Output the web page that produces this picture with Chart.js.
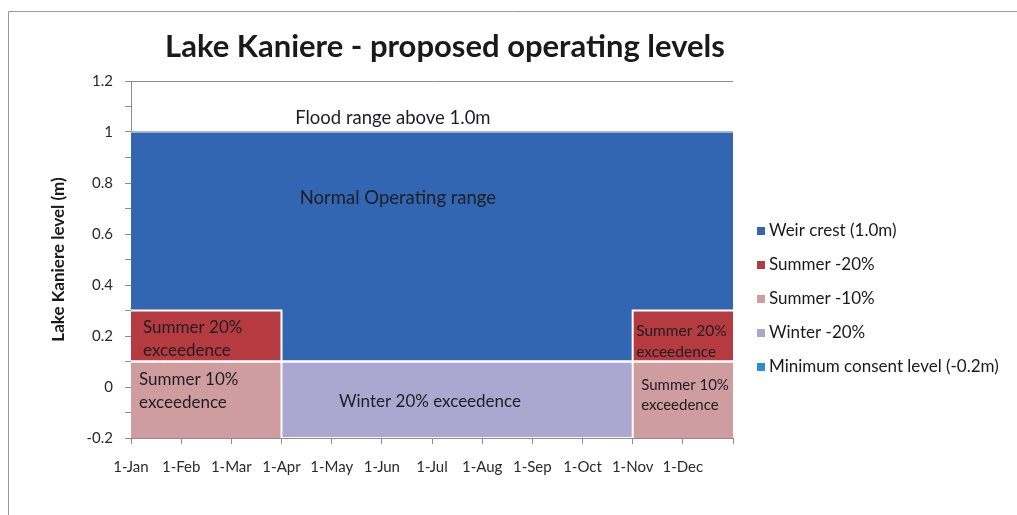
<!DOCTYPE html>
<html>
<head>
<meta charset="utf-8">
<title>Lake Kaniere - proposed operating levels</title>
<script src="https://cdn.jsdelivr.net/npm/chart.js@4"></script>
<style>
    html, body { margin: 0; padding: 0; background: #ffffff; }
    #wrap { position: relative; width: 1017px; height: 515px; }
</style>
</head>
<body>
<div id="wrap"><canvas id="levelsChart" width="1017" height="515"></canvas></div>
<script>
// Month tick labels (x axis runs 0..12 in months from 1-Jan)
const monthLabels = ['1-Jan', '1-Feb', '1-Mar', '1-Apr', '1-May', '1-Jun',
    '1-Jul', '1-Aug', '1-Sep', '1-Oct', '1-Nov', '1-Dec'];

// Corner points of the operating bands, in months from 1-Jan
const bandMonths = [0, 3, 3, 10, 10, 12];

// Lake levels (m) at each corner point
const minConsentLevel = [-0.2, -0.2, -0.2, -0.2, -0.2, -0.2];
const summer10Level = [0.1, 0.1, -0.2, -0.2, 0.1, 0.1];
const winter20Level = [0.1, 0.1, 0.1, 0.1, 0.1, 0.1];
const summer20Level = [0.3, 0.3, 0.1, 0.1, 0.3, 0.3];
const weirCrestLevel = [1.0, 1.0, 1.0, 1.0, 1.0, 1.0];

// Legend shows the series top band first
const legendOrder = ['Weir crest (1.0m)', 'Summer -20%', 'Summer -10%',
    'Winter -20%', 'Minimum consent level (-0.2m)'];

// Y axis range / step
const yMin = -0.2;
const yMax = 1.2;
const yMinorStep = 0.1;

const FONT = 'Lato, "Open Sans", sans-serif';

function toPoints(levels) {
    return bandMonths.map((m, i) => ({ x: m, y: levels[i] }));
}

// Text written inside the bands
const bandNotes = [
    { x: 5.22, y: 1.055, lines: ['Flood range above 1.0m'], align: 'center', size: 18.5 },
    { x: 5.32, y: 0.74, lines: ['Normal Operating range'], align: 'center', size: 18.5 },
    { x: 0.24, y: 0.235, lines: ['Summer 20%', 'exceedence'], align: 'left', size: 17 },
    { x: 0.16, y: 0.03, lines: ['Summer 10%', 'exceedence'], align: 'left', size: 17 },
    { x: 5.96, y: -0.058, lines: ['Winter 20% exceedence'], align: 'center', size: 17 },
    { x: 10.07, y: 0.22, lines: ['Summer 20%', 'exceedence'], align: 'left', size: 15.5 },
    { x: 10.17, y: 0.008, lines: ['Summer 10%', 'exceedence'], align: 'left', size: 15 }
];

const notesPlugin = {
    id: 'bandNotes',
    afterDatasetsDraw(chart) {
        const { ctx, scales } = chart;
        ctx.save();
        ctx.fillStyle = '#1e1e22';
        ctx.textBaseline = 'middle';
        bandNotes.forEach(note => {
            ctx.font = note.size + 'px ' + FONT;
            ctx.textAlign = note.align;
            const px = scales.x.getPixelForValue(note.x);
            const py = scales.y.getPixelForValue(note.y);
            const lineGap = note.size * 1.35;
            note.lines.forEach((line, i) => {
                ctx.fillText(line, px, py + i * lineGap);
            });
        });
        ctx.restore();
    }
};

// Legend to the right of the plot, one row per series
const sideLegendPlugin = {
    id: 'sideLegend',
    afterDraw(chart) {
        const { ctx } = chart;
        const sets = chart.data.datasets;
        const left = chart.chartArea.right + 24;
        const top = 231;
        const rowGap = 34;
        ctx.save();
        ctx.font = '17px ' + FONT;
        ctx.textAlign = 'left';
        ctx.textBaseline = 'middle';
        legendOrder.forEach((name, row) => {
            const ds = sets.find(d => d.label === name);
            const y = top + row * rowGap;
            ctx.fillStyle = ds.backgroundColor;
            ctx.fillRect(left, y - 4, 8, 8);
            ctx.fillStyle = '#1a1a1a';
            ctx.fillText(name, left + 12, y);
        });
        ctx.restore();
    }
};

const framePlugin = {
    id: 'frame',
    beforeDraw(chart) {
        const { ctx, width, height } = chart;
        ctx.save();
        ctx.strokeStyle = '#9a9a9a';
        ctx.lineWidth = 1;
        ctx.beginPath();
        ctx.moveTo(8.5, height);
        ctx.lineTo(8.5, 11.5);
        ctx.lineTo(width, 11.5);
        ctx.stroke();
        // chart title
        ctx.fillStyle = '#1a1a1a';
        ctx.font = 'bold 31px ' + FONT;
        ctx.textAlign = 'center';
        ctx.textBaseline = 'middle';
        ctx.fillText('Lake Kaniere - proposed operating levels', 445, 47);
        ctx.restore();
    }
};

const isMajor = v => Math.round(v * 10) % 2 === 0;

const ctx = document.getElementById('levelsChart').getContext('2d');
new Chart(ctx, {
    type: 'line',
    data: {
        datasets: [{
            label: 'Minimum consent level (-0.2m)',
            data: toPoints(minConsentLevel),
            backgroundColor: '#2b8fcf',
            borderColor: 'rgba(0,0,0,0)',
            borderWidth: 0,
            fill: false
        }, {
            label: 'Summer -10%',
            data: toPoints(summer10Level),
            backgroundColor: '#cf9ca0',
            borderColor: '#ffffff',
            borderWidth: 2,
            fill: '-1'
        }, {
            label: 'Winter -20%',
            data: toPoints(winter20Level),
            backgroundColor: '#aba7d0',
            borderColor: '#ffffff',
            borderWidth: 2,
            fill: '-1'
        }, {
            label: 'Summer -20%',
            data: toPoints(summer20Level),
            backgroundColor: '#b63b40',
            borderColor: '#ffffff',
            borderWidth: 2,
            fill: '-1'
        }, {
            label: 'Weir crest (1.0m)',
            data: toPoints(weirCrestLevel),
            backgroundColor: '#3266b2',
            borderColor: '#b9cbe6',
            borderWidth: 1.5,
            fill: '-1'
        }]
    },
    options: {
        responsive: false,
        animation: false,
        layout: {
            padding: { left: 40, top: 81, right: 284, bottom: 0 }
        },
        elements: {
            point: { radius: 0, hoverRadius: 0 },
            line: { tension: 0 }
        },
        plugins: {
            filler: { drawTime: 'beforeDatasetsDraw' },
            tooltip: { enabled: false },
            title: { display: false },
            legend: { display: false }
        },
        scales: {
            x: {
                type: 'linear',
                min: 0,
                max: monthLabels.length,
                afterFit(scale) { scale.height = 77; },
                ticks: {
                    stepSize: 1,
                    autoSkip: false,
                    maxRotation: 0,
                    padding: 14,
                    color: '#2a2a2a',
                    font: { family: FONT, size: 15 },
                    callback: v => monthLabels[v] || ''
                },
                grid: {
                    drawOnChartArea: false,
                    tickLength: 6,
                    color: '#8c8c8c'
                },
                border: { color: '#8c8c8c', width: 1 }
            },
            y: {
                min: yMin,
                max: yMax,
                afterFit(scale) { scale.width = 91; },
                ticks: {
                    stepSize: yMinorStep,
                    autoSkip: false,
                    padding: 12,
                    color: '#2a2a2a',
                    font: { family: FONT, size: 15 },
                    callback: v => isMajor(v) ? String(Number(v.toFixed(1))) : ''
                },
                grid: {
                    tickLength: 6,
                    tickColor: '#8c8c8c',
                    color: c => isMajor(c.tick.value) ? '#8c8c8c' : 'rgba(0,0,0,0)'
                },
                border: { color: '#8c8c8c', width: 1 },
                title: {
                    display: true,
                    text: 'Lake Kaniere level (m)',
                    color: '#1a1a1a',
                    font: { family: FONT, size: 17, weight: 'bold' },
                    padding: { top: 8, bottom: 0 }
                }
            }
        }
    },
    plugins: [framePlugin, notesPlugin, sideLegendPlugin]
});
</script>
</body>
</html>
